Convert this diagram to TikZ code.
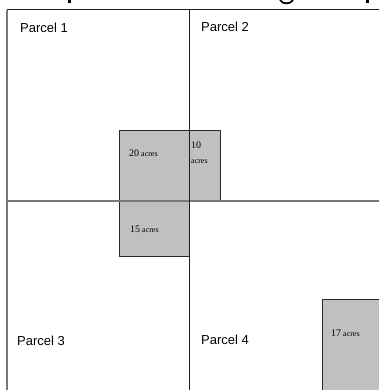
\documentclass[tikz,border=0pt]{standalone}
\usepackage{fontspec}
\setmainfont{Liberation Serif}
\newfontfamily\arialf{Liberation Sans}
\begin{document}
\begin{tikzpicture}[x=1pt,y=-1pt,
  plot/.style={fill={rgb,255:red,192;green,192;blue,192},draw={rgb,255:red,40;green,40;blue,40},line width=0.9pt},
  parcel/.style={font=\arialf\fontsize{13}{15}\selectfont,inner sep=0pt,anchor=base west},
  acre/.style={font=\fontsize{8}{9}\selectfont,inner sep=0pt,anchor=base west},
  blackline/.style={draw={rgb,255:red,30;green,30;blue,30},line width=1pt},
  grayline/.style={draw={rgb,255:red,120;green,120;blue,120},line width=1.8pt}]
\useasboundingbox (0,0) rectangle (379,390);
% clipped title fragments
\fill (68,0) rectangle (71,3);
\fill (366,0) rectangle (368.5,3);
\draw[line width=1.8pt] (280,0) .. controls (282,4.5) and (291,4.5) .. (293,0);
% gray plots
\path[plot] (119,130) rectangle (189,201);
\path[plot] (189,130) rectangle (220,201);
\path[plot] (119,201) rectangle (189,256);
\path[plot] (322,299) rectangle (381,392);
% grid lines
\coordinate (tl) at (7,10);
\coordinate (tr) at (380,10);
\coordinate (tm) at (189.5,10);
\coordinate (bm) at (189.5,391);
\coordinate (bl) at (7,391);
\coordinate (ml) at (7,201);
\coordinate (mr) at (380,201);
\draw[grayline,line width=1.4pt] (tl) -- (bl);
\draw[grayline] (ml) -- (mr);
\draw[blackline] (tl) -- (tr);
\draw[blackline] (tm) -- (bm);
% labels
\node[parcel] (p1) at (20,33) {Parcel 1};
\node[parcel] (p2) at (201,32) {Parcel 2};
\node[parcel] (p3) at (17,345) {Parcel 3};
\node[parcel] (p4) at (201,344) {Parcel 4};
\node[acre] (a20) at (129,157) {{\fontsize{10}{11}\selectfont 20} acres};
\node[acre] (a10) at (191,148) {\fontsize{10}{11}\selectfont 10};
\node[acre] (a10b) at (191,163) {acres};
\node[acre] (a15) at (130,232) {{\fontsize{10}{11}\selectfont 15} acres};
\node[acre] (a17) at (331,336) {{\fontsize{10}{11}\selectfont 17} acres};
\end{tikzpicture}
\end{document}
